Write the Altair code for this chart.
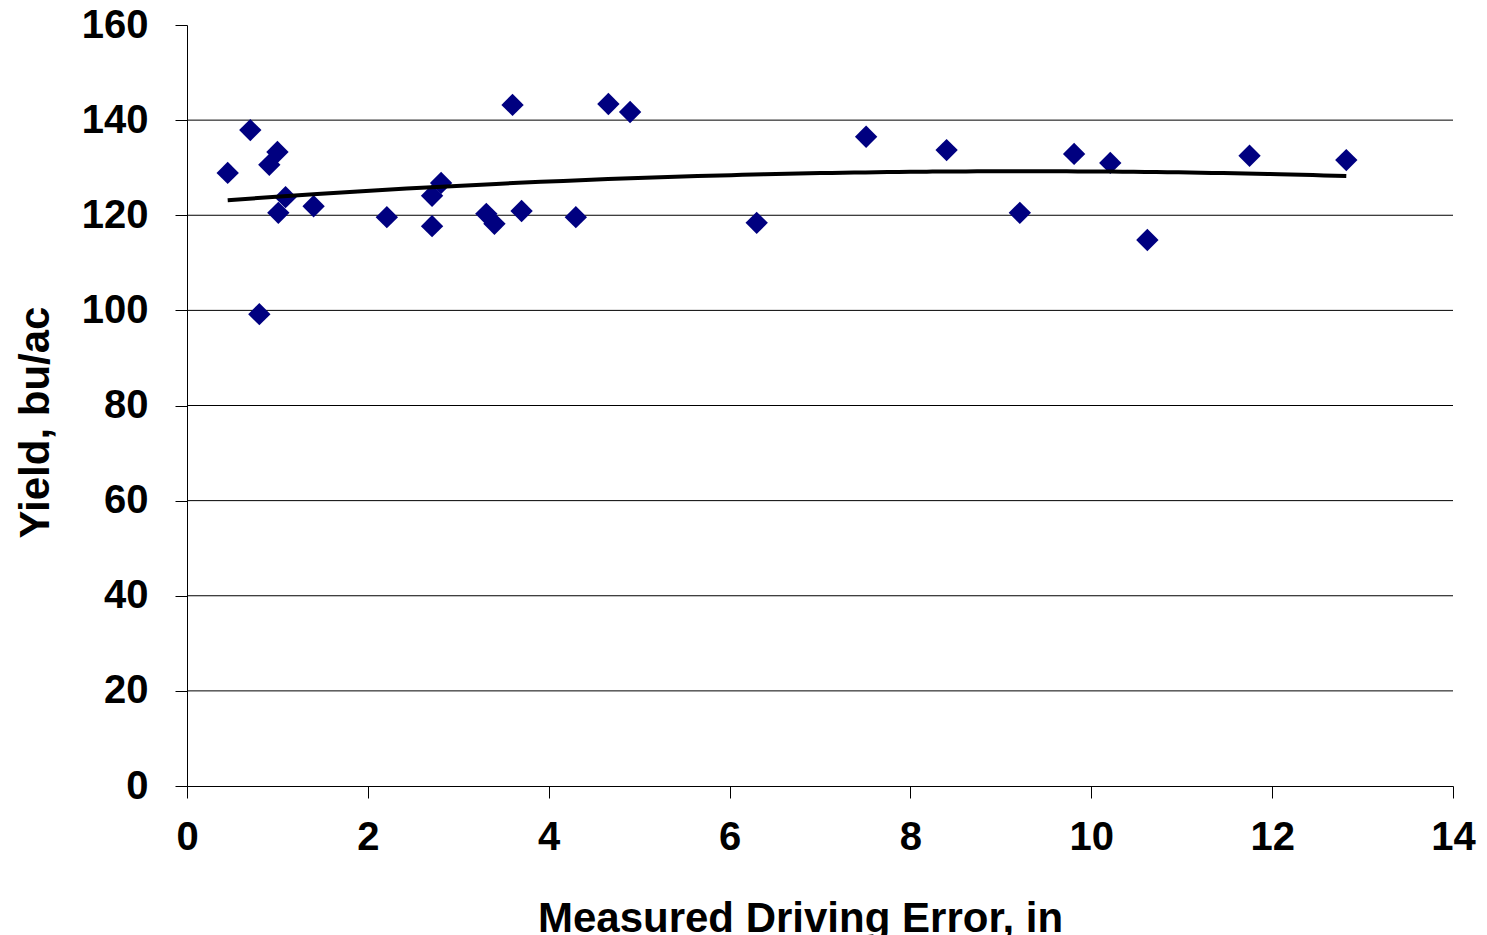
import altair as alt
import pandas as pd

# Measured driving error (in) and corresponding yield (bu/ac)
driving_error = [0.45, 0.70, 0.91, 1.00, 1.01, 1.09, 0.80, 1.40, 2.21, 2.71,
                 2.71, 2.81, 3.60, 3.31, 3.40, 3.70, 4.30, 4.66, 4.90, 6.30,
                 7.51, 8.40, 9.21, 9.81, 10.21, 10.62, 11.75, 12.82]
yield_bu = [128.9, 137.9, 130.6, 133.3, 120.5, 123.8, 99.2, 121.9, 119.6, 124.1,
            117.7, 126.8, 143.2, 120.3, 118.2, 120.9, 119.6, 143.4, 141.7, 118.4,
            136.5, 133.7, 120.5, 132.9, 131.0, 114.8, 132.5, 131.6]

grid_values = [20, 40, 60, 80, 100, 120, 140]
x_ticks = [0, 2, 4, 6, 8, 10, 12, 14]
y_ticks = [0, 20, 40, 60, 80, 100, 120, 140, 160]

df = pd.DataFrame({"error": driving_error, "yield": yield_bu})
grid_df = pd.DataFrame({"g": grid_values})

FONT = "Liberation Sans"

x_scale = alt.Scale(domain=[0, 14], nice=False, zero=True)
y_scale = alt.Scale(domain=[0, 160], nice=False)

x_axis = alt.Axis(
    values=x_ticks, format="d", grid=False, tickSize=12, labelPadding=19,
    labelFont=FONT, labelFontSize=40, labelFontWeight="bold", labelColor="black",
    domainColor="black", tickColor="black", labelFlush=False,
    title="Measured Driving Error, in", titleFont=FONT, titleFontSize=42,
    titleFontWeight="bold", titleColor="black",
    titleX=613, titleY=112, titleAlign="center", titleBaseline="top",
)
y_axis = alt.Axis(
    values=y_ticks, format="d", grid=False, tickSize=12, labelPadding=27,
    labelFont=FONT, labelFontSize=40, labelFontWeight="bold", labelColor="black",
    domainColor="black", tickColor="black", labelFlush=False,
    title="Yield, bu/ac", titleFont=FONT, titleFontSize=42,
    titleFontWeight="bold", titleColor="black",
    titleX=-152, titleY=397, titleAngle=-90, titleAlign="center",
    titleBaseline="middle",
)

# horizontal guide lines between the axis baseline and the top tick
grid = alt.Chart(grid_df).mark_rule(color="black", strokeWidth=1).encode(
    y=alt.Y("g:Q", scale=y_scale, axis=y_axis)
)

points = alt.Chart(df).mark_point(
    shape="diamond", filled=True, color="#000080", size=500, opacity=1
).encode(
    x=alt.X("error:Q", scale=x_scale, axis=x_axis),
    y=alt.Y("yield:Q", scale=y_scale, axis=y_axis),
)

# second-order polynomial trend through the observations
trend = alt.Chart(df).transform_regression(
    "error", "yield", method="poly", order=2
).mark_line(color="black", strokeWidth=4).encode(
    x=alt.X("error:Q", scale=x_scale, axis=x_axis),
    y=alt.Y("yield:Q", scale=y_scale, axis=y_axis),
)

chart = alt.layer(grid, points, trend).properties(
    width=1266, height=761,
    padding={"left": 187, "top": 25, "right": 34, "bottom": 149},
    autosize=alt.AutoSizeParams(type="none"),
    background="white",
).configure_view(stroke=None)

chart.save("out.html", embed_options={"renderer": "svg", "actions": False})
